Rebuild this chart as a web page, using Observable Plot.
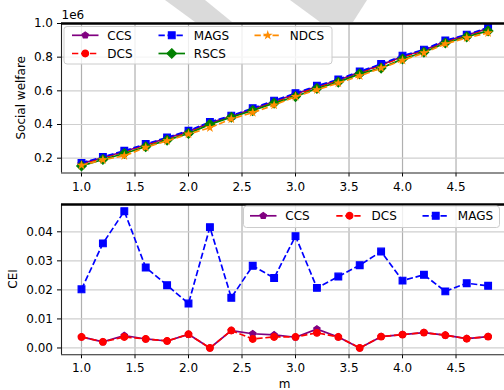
<!DOCTYPE html>
<html>
<head>
<meta charset="utf-8">
<script src="https://cdn.jsdelivr.net/npm/d3@7"></script>
<script src="https://cdn.jsdelivr.net/npm/@observablehq/plot@0.6"></script>
<style>
  body { margin: 0; background: #fff; }
  #fig { position: relative; width: 504px; height: 390px; overflow: hidden; background: #fff; }
  #fig > svg { position: absolute; left: 0; }
</style>
</head>
<body>
<div id="fig"></div>
<script>
// ---- data -------------------------------------------------------------
const m = [1.0, 1.2, 1.4, 1.6, 1.8, 2.0, 2.2, 2.4, 2.6, 2.8, 3.0, 3.2, 3.4, 3.6, 3.8, 4.0, 4.2, 4.4, 4.6, 4.8];

// social welfare
const swCCS  = [168000, 204000, 240000, 280000, 319000, 359000, 410000, 449000, 492000, 537000, 581000, 625000, 663000, 711000, 754000, 804000, 841000, 895000, 930000, 971000];
const swDCS  = [166000, 202000, 238000, 278000, 316000, 356000, 408000, 447000, 490000, 534000, 578000, 622000, 661000, 708000, 751000, 801000, 838000, 892000, 928000, 968000];
const swMAGS = [172000, 208000, 244000, 284000, 323000, 363000, 415000, 453000, 497000, 542000, 586000, 630000, 668000, 715000, 759000, 809000, 845000, 900000, 934000, 976000];
const swRSCS = [154000, 192000, 228000, 268000, 307000, 347000, 401000, 443000, 483000, 527000, 566000, 614000, 652000, 701000, 735000, 789000, 829000, 884000, 921000, 956000];
const swNDCS = [158000, 190000, 214000, 264000, 303000, 343000, 381000, 433000, 471000, 515000, 566000, 606000, 646000, 689000, 735000, 781000, 825000, 879000, 915000, 944000];

// CEI
const ceiCCS  = [0.0038, 0.0021, 0.0043, 0.0031, 0.0024, 0.0047, 0.0000, 0.0060, 0.0049, 0.0045, 0.0037, 0.0065, 0.0038, 0.0000, 0.0039, 0.0046, 0.0053, 0.0044, 0.0032, 0.0039];
const ceiDCS  = [0.0038, 0.0021, 0.0038, 0.0031, 0.0024, 0.0047, 0.0000, 0.0060, 0.0031, 0.0038, 0.0038, 0.0052, 0.0038, 0.0000, 0.0039, 0.0046, 0.0053, 0.0044, 0.0032, 0.0039];
const ceiMAGS = [0.0202, 0.0360, 0.0471, 0.0277, 0.0216, 0.0153, 0.0416, 0.0173, 0.0283, 0.0241, 0.0385, 0.0207, 0.0246, 0.0285, 0.0332, 0.0232, 0.0252, 0.0195, 0.0223, 0.0214];

// ticks
const xTicks   = [1.0, 1.5, 2.0, 2.5, 3.0, 3.5, 4.0, 4.5];
const swTicks  = [200000, 400000, 600000, 800000, 1000000];
const ceiTicks = [0.00, 0.01, 0.02, 0.03, 0.04];

// ---- marker shapes (radius-based, d3 symbol protocol) -----------------
const rad = size => Math.sqrt(size / Math.PI);
const circle   = { draw(c, s) { const r = rad(s); c.moveTo(r, 0); c.arc(0, 0, r, 0, 2 * Math.PI); c.closePath(); } };
const square   = { draw(c, s) { const r = rad(s); c.rect(-r, -r, 2 * r, 2 * r); } };
const diamond  = { draw(c, s) { const r = rad(s) * Math.SQRT2; c.moveTo(0, -r); c.lineTo(r, 0); c.lineTo(0, r); c.lineTo(-r, 0); c.closePath(); } };
const pentagon = { draw(c, s) { const r = rad(s);
  for (let i = 0; i < 5; i++) { const a = -Math.PI / 2 + i * 2 * Math.PI / 5; const x = r * Math.cos(a), y = r * Math.sin(a); i ? c.lineTo(x, y) : c.moveTo(x, y); }
  c.closePath(); } };
const star     = { draw(c, s) { const R = rad(s), ri = R * 0.381966;
  for (let i = 0; i < 10; i++) { const rr = i % 2 ? ri : R; const a = -Math.PI / 2 + i * Math.PI / 5; const x = rr * Math.cos(a), y = rr * Math.sin(a); i ? c.lineTo(x, y) : c.moveTo(x, y); }
  c.closePath(); } };

const DASH = "6.3,2.7";
const styles = {
  CCS:  { color: "purple",     dash: null, symbol: pentagon },
  DCS:  { color: "red",        dash: DASH, symbol: circle },
  MAGS: { color: "blue",       dash: DASH, symbol: square },
  RSCS: { color: "green",      dash: null, symbol: diamond },
  NDCS: { color: "darkorange", dash: DASH, symbol: star }
};
const MR = 3.4, LW = 1.7, FS = 12;

const tidy = (name, ys) => m.map((x, i) => ({ m: x, v: ys[i], series: name }));

function seriesMarks(name, ys) {
  const s = styles[name], rows = tidy(name, ys);
  return [
    Plot.line(rows, { x: "m", y: "v", stroke: s.color, strokeWidth: LW, strokeDasharray: s.dash,
                      strokeLinecap: s.dash ? "butt" : "round", clip: true }),
    Plot.dot(rows, { x: "m", y: "v", symbol: s.symbol, r: MR, fill: s.color, stroke: s.color, strokeWidth: 1.1, clip: true })
  ];
}

const xDomain = [0.8131, 4.953];
const swDomain = [112000, 1000000];
const ceiDomain = [-0.00235, 0.0494];

const common = {
  width: 504, height: 195, marginLeft: 61, marginRight: 0,
  style: { background: "transparent", fontFamily: "DejaVu Sans, sans-serif", fontSize: FS + "px", color: "#000", overflow: "visible" },
  x: { domain: xDomain, ticks: xTicks, tickFormat: d => d.toFixed(1), tickSize: 4, tickPadding: 5, label: null }
};

function frameMarks(yDomain, yTicks) {
  return {
    under: [
      Plot.ruleX(xTicks, { stroke: "#b0b0b0", strokeWidth: 1.2 }),
      Plot.ruleY(yTicks, { stroke: "#cfcfcf", strokeWidth: 1.2 })
    ],
    over: [
      Plot.ruleX([xDomain[0]], { stroke: "#222", strokeWidth: 1.1 }),
      Plot.ruleY([yDomain[0]], { stroke: "#222", strokeWidth: 1.1 }),
      Plot.ruleY([yDomain[1]], { stroke: "#000", strokeWidth: 2.6 })
    ]
  };
}

const fTop = frameMarks(swDomain, swTicks);
const topPlot = Plot.plot({
  ...common, marginTop: 23, marginBottom: 22.5,
  y: { domain: swDomain, ticks: swTicks, tickFormat: d => (d / 1e6).toFixed(1), tickSize: 4, tickPadding: 4.5, label: null },
  marks: [
    ...fTop.under,
    ...seriesMarks("CCS", swCCS),
    ...seriesMarks("DCS", swDCS),
    ...seriesMarks("MAGS", swMAGS),
    ...seriesMarks("RSCS", swRSCS),
    ...seriesMarks("NDCS", swNDCS),
    ...fTop.over
  ]
});

const fBot = frameMarks(ceiDomain, ceiTicks);
const botPlot = Plot.plot({
  ...common, marginTop: 9, marginBottom: 35.7,
  y: { domain: ceiDomain, ticks: ceiTicks, tickFormat: d => d.toFixed(2), tickSize: 4, tickPadding: 4.5, label: null },
  marks: [
    ...fBot.under,
    ...seriesMarks("CCS", ceiCCS),
    ...seriesMarks("DCS", ceiDCS),
    ...seriesMarks("MAGS", ceiMAGS),
    ...fBot.over
  ]
});

const fig = document.getElementById("fig");

// faint backdrop shapes above the upper panel
const back = d3.create("svg").attr("width", 504).attr("height", 390).style("top", "0px");
back.append("polygon").attr("points", "165,0 205,0 232,22 195,22").attr("fill", "#dadada");
back.append("polygon").attr("points", "290,0 367,0 353,22 320,22").attr("fill", "#dadada");
fig.appendChild(back.node());

topPlot.style.top = "0px";
botPlot.style.top = "195px";
fig.appendChild(topPlot);
fig.appendChild(botPlot);

// labels and legends
const ov = d3.create("svg").attr("width", 504).attr("height", 390).style("top", "0px")
  .attr("font-family", "DejaVu Sans, sans-serif").attr("font-size", FS);

ov.append("text").attr("x", 61.5).attr("y", 15).attr("dy", "0.35em").text("1e6");
ov.append("text").attr("transform", "translate(21,97.8) rotate(-90)").attr("text-anchor", "middle").attr("dy", "0.35em").text("Social welfare");
ov.append("text").attr("transform", "translate(12.7,279) rotate(-90)").attr("text-anchor", "middle").attr("dy", "0.35em").text("CEI");
ov.append("text").attr("x", 284.5).attr("y", 383.5).attr("text-anchor", "middle").attr("dy", "0.35em").text("m");

function legend(box, items) {
  const g = ov.append("g");
  g.append("rect").attr("x", box.x).attr("y", box.y).attr("width", box.w).attr("height", box.h)
    .attr("rx", 3).attr("fill", "#fff").attr("fill-opacity", 0.8).attr("stroke", "#cccccc").attr("stroke-width", 1);
  for (const it of items) {
    const s = styles[it.name];
    g.append("line").attr("x1", it.x).attr("x2", it.x + 26.5).attr("y1", it.y).attr("y2", it.y)
      .attr("stroke", s.color).attr("stroke-width", LW).attr("stroke-dasharray", s.dash);
    g.append("path").attr("transform", `translate(${it.x + 13.25},${it.y})`)
      .attr("d", d3.symbol(s.symbol, MR * MR * Math.PI)())
      .attr("fill", s.color).attr("stroke", s.color).attr("stroke-width", 1.1);
    g.append("text").attr("x", it.x + 35.3).attr("y", it.y).attr("dy", "0.35em").text(it.name);
  }
}

legend({ x: 64, y: 26.5, w: 268, h: 37.5 }, [
  { name: "CCS",  x: 72,  y: 35.3 },
  { name: "DCS",  x: 72,  y: 53.5 },
  { name: "MAGS", x: 158.5, y: 35.3 },
  { name: "RSCS", x: 158.5, y: 53.5 },
  { name: "NDCS", x: 254.5, y: 35.3 }
]);

legend({ x: 243.5, y: 206, w: 256, h: 21.5 }, [
  { name: "CCS",  x: 250,   y: 215.8 },
  { name: "DCS",  x: 336.3, y: 215.8 },
  { name: "MAGS", x: 422.5, y: 215.8 }
]);

fig.appendChild(ov.node());
</script>
</body>
</html>
